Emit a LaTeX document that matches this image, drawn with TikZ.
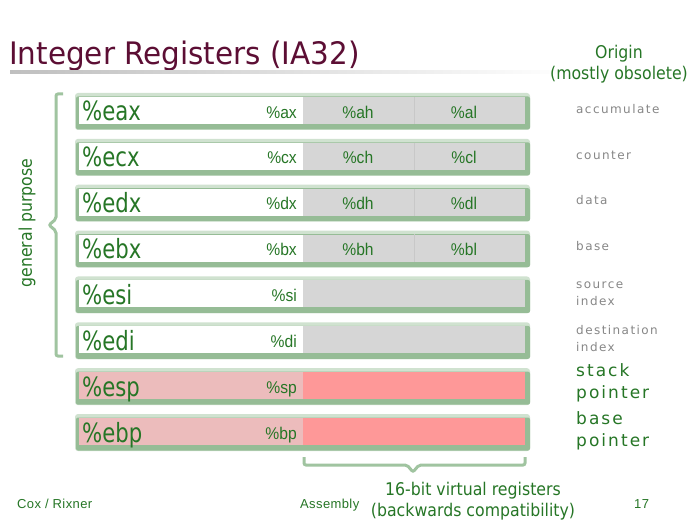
\documentclass[tikz,border=0pt]{standalone}
\usepackage{fontspec}
\setmainfont{DejaVu Sans}
\newfontfamily\ttlfont[FakeStretch=0.95]{DejaVu Sans}
\newfontfamily\regfont[FakeStretch=0.8]{DejaVu Sans}
\newfontfamily\lblfont[FakeStretch=0.9]{DejaVu Sans}
\newfontfamily\smfont[FakeStretch=0.92]{Liberation Sans}
\newfontfamily\spcfont[LetterSpace=12]{DejaVu Sans}
\newfontfamily\footfont[LetterSpace=3]{Liberation Sans}
\definecolor{regtxt}{RGB}{38,118,38}
\definecolor{framelight}{RGB}{208,226,208}
\definecolor{framedark}{RGB}{150,188,150}
\definecolor{bracecol}{RGB}{160,196,160}
\definecolor{cellgray}{RGB}{214,214,214}
\definecolor{divgray}{RGB}{200,200,200}
\definecolor{pinklt}{RGB}{236,188,188}
\definecolor{redcell}{RGB}{254,152,152}
\definecolor{ttlcol}{RGB}{92,14,52}
\definecolor{desccol}{RGB}{135,135,135}
\tikzset{
  regframe/.style={fill=framelight, rounded corners=3pt, inner sep=0pt, minimum width=455pt, minimum height=37pt},
  reginner/.style={fill=framedark, rounded corners=2pt, inner sep=0pt, minimum width=454pt, minimum height=33pt},
  cellbox/.style={inner sep=0pt, minimum height=27pt},
  reglbl/.style={font=\regfont\fontsize{26.5}{30}\selectfont, text=regtxt, inner sep=0pt, anchor=base west},
  smlbl/.style={font=\smfont\fontsize{17}{19}\selectfont, text=regtxt, inner sep=0pt},
  desclbl/.style={font=\spcfont\fontsize{12}{17}\selectfont, text=desccol, inner sep=0pt, anchor=west, align=left},
  greenlbl/.style={font=\spcfont\fontsize{17}{21.5}\selectfont, text=regtxt, inner sep=0pt, anchor=west, align=left},
  bigtxt/.style={font=\lblfont\fontsize{17.5}{21}\selectfont, text=regtxt, inner sep=0pt, align=center},
  foottxt/.style={font=\footfont\fontsize{13}{15}\selectfont, text=regtxt, inner sep=0pt},
  braceline/.style={draw=bracecol, line width=3pt, rounded corners=2pt}
}
\begin{document}
\begin{tikzpicture}[x=1pt,y=-1pt]
\useasboundingbox (0,0) rectangle (697,527);
\fill[white] (0,0) rectangle (697,527);
% title
\node[font=\ttlfont\fontsize{31}{34}\selectfont, text=ttlcol, inner sep=0pt, anchor=base west] (title) at (9,65) {Integer Registers (IA32)};
\shade[left color=black!25, right color=white] (10,71) rectangle (570,74);
\node[bigtxt] (origin) at (619,64) {Origin\\(mostly obsolete)};
% register rows
\foreach \i/\big/\sm/\lc/\rc in {1/eax/ax/white/cellgray,2/ecx/cx/white/cellgray,3/edx/dx/white/cellgray,4/ebx/bx/white/cellgray,5/esi/si/white/cellgray,6/edi/di/white/cellgray,7/esp/sp/pinklt/redcell,8/ebp/bp/pinklt/redcell}{
  \pgfmathsetmacro\c{111+45.86*(\i-1)}
  \node[regframe] (r\i) at (302.5,\c+0.5) {};
  \node[reginner] (q\i) at (303,\c+2) {};
  \node[cellbox, fill=\lc, minimum width=224pt] (w\i) at (191,\c-0.5) {};
  \node[cellbox, fill=\rc, minimum width=222pt] (g\i) at (414,\c-0.5) {};
  \node[reglbl] (b\i) at (82,\c+10) {\%\big};
  \node[smlbl, anchor=base east] (s\i) at (297,\c+7) {\%\sm};
}
\foreach \i/\hi/\lo in {1/ah/al,2/ch/cl,3/dh/dl,4/bh/bl}{
  \pgfmathsetmacro\c{111+45.86*(\i-1)}
  \draw[divgray, line width=0.8pt] (g\i.north) -- (g\i.south);
  \node[smlbl, anchor=base] (h\i) at (358,\c+7) {\%\hi};
  \node[smlbl, anchor=base] (l\i) at (464,\c+7) {\%\lo};
}
% descriptions
\node[desclbl] (d1) at (576,109) {accumulate};
\node[desclbl] (d2) at (576,155) {counter};
\node[desclbl] (d3) at (576,200) {data};
\node[desclbl] (d4) at (576,246) {base};
\node[desclbl] (d5) at (576,293.5) {source\\index};
\node[desclbl] (d6) at (576,338.5) {destination\\index};
\node[greenlbl] (d7) at (576,383) {stack\\pointer};
\node[greenlbl] (d8) at (576,431) {base\\pointer};
% general purpose brace
\coordinate (gpA) at (63,94);
\coordinate (gpB) at (63,356);
\draw[braceline] (gpA) -- (56,94) -- (56,219) -- (49,225) -- (56,231) -- (56,356) -- (gpB);
\node[bigtxt, rotate=90] (gp) at (27,223) {general purpose};
% 16-bit brace
\coordinate (vbA) at (304,457);
\coordinate (vbB) at (525,457);
\draw[braceline] (vbA) -- (304,465) -- (407,465) -- (413,472) -- (419,465) -- (525,465) -- (vbB);
\node[bigtxt] (vb) at (473,501) {16-bit virtual registers\\(backwards compatibility)};
% footer
\node[foottxt, anchor=base west] (f1) at (17,508) {Cox / Rixner};
\node[foottxt, anchor=base west] (f2) at (300,508) {Assembly};
\node[foottxt, anchor=base west] (f3) at (634,508) {17};
\end{tikzpicture}
\end{document}
